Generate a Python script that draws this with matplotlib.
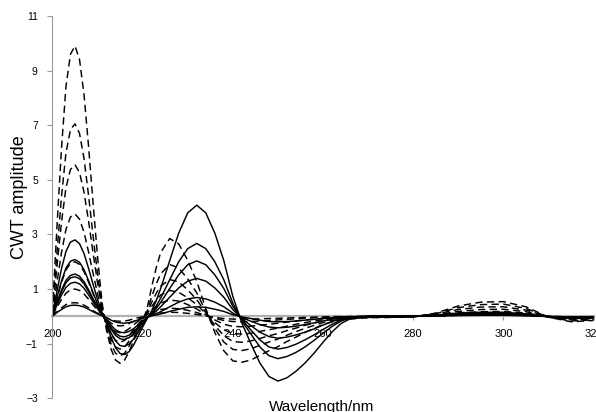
import matplotlib
matplotlib.use('Agg')
import matplotlib.pyplot as plt

# wavelength grid (nm) - finer where the curves swing fast
wavelength = [200, 201, 202, 203, 204, 205, 206, 207, 208, 209, 210, 211,
              212, 213, 214, 215, 216, 217, 218, 219, 220, 221, 222, 223, 224,
              226, 228, 230, 232, 234, 236, 238, 240, 242, 244, 246, 248, 250,
              252, 254, 256, 258, 260, 262, 264, 266,
              270, 275, 280, 285, 290, 295, 300, 305, 310, 315, 320]

# dashed family
dash_1 = [0.2, 3.27, 6.14, 8.42, 9.6, 9.9, 9.41, 8.12, 6.24, 4.16, 2.18, 0.5,
          -0.52, -1.2, -1.6, -1.72, -1.6, -1.29, -0.89, -0.52, -0.17,
          0.29, 1.08, 1.77, 2.34, 2.85, 2.65, 2.05, 1.28, 0.29,
          -0.59, -1.26, -1.63, -1.68, -1.6, -1.43, -1.26, -1.11, -0.92, -0.76, -0.59, -0.44, -0.3, -0.2, -0.13, -0.1,
          -0.05, -0.04, -0.02, 0.12, 0.38, 0.52, 0.54, 0.35, -0.03, -0.2, -0.15]
dash_2 = [0.14, 2.33, 4.37, 5.99, 6.84, 7.05, 6.7, 5.78, 4.44, 2.96, 1.55, 0.35,
          -0.44, -1.02, -1.35, -1.45, -1.35, -1.09, -0.75, -0.44, -0.15,
          0.19, 0.72, 1.18, 1.56, 1.9, 1.77, 1.37, 0.86, 0.19,
          -0.44, -0.94, -1.21, -1.25, -1.19, -1.06, -0.94, -0.83, -0.69, -0.56, -0.44, -0.33, -0.23, -0.15, -0.1, -0.08,
          -0.04, -0.03, -0.02, 0.1, 0.32, 0.43, 0.45, 0.29, -0.03, -0.17, -0.13]
dash_3 = [0.11, 1.83, 3.44, 4.72, 5.38, 5.55, 5.27, 4.55, 3.5, 2.33, 1.22, 0.28,
          -0.36, -0.84, -1.12, -1.2, -1.12, -0.9, -0.62, -0.36, -0.12,
          0.14, 0.51, 0.84, 1.11, 1.35, 1.26, 0.97, 0.61, 0.14,
          -0.33, -0.71, -0.92, -0.95, -0.9, -0.81, -0.71, -0.63, -0.52, -0.43, -0.33, -0.25, -0.17, -0.11, -0.08, -0.06,
          -0.03, -0.02, -0.01, 0.08, 0.25, 0.34, 0.35, 0.23, -0.02, -0.13, -0.1]
dash_4 = [0.08, 1.24, 2.33, 3.19, 3.64, 3.75, 3.56, 3.08, 2.36, 1.58, 0.83, 0.19,
          -0.29, -0.67, -0.88, -0.95, -0.88, -0.71, -0.49, -0.29, -0.1,
          0.1, 0.36, 0.59, 0.78, 0.95, 0.88, 0.68, 0.43, 0.1,
          -0.23, -0.49, -0.63, -0.65, -0.62, -0.55, -0.49, -0.43, -0.36, -0.29, -0.23, -0.17, -0.12, -0.08, -0.05, -0.04,
          -0.02, -0.02, -0.01, 0.06, 0.18, 0.25, 0.26, 0.17, -0.02, -0.1, -0.07]
dash_5 = [0.04, 0.66, 1.24, 1.7, 1.94, 2.0, 1.9, 1.64, 1.26, 0.84, 0.44, 0.1,
          -0.18, -0.42, -0.56, -0.6, -0.56, -0.45, -0.31, -0.18, -0.06,
          0.06, 0.23, 0.37, 0.49, 0.6, 0.56, 0.43, 0.27, 0.06,
          -0.13, -0.29, -0.37, -0.38, -0.36, -0.32, -0.29, -0.25, -0.21, -0.17, -0.13, -0.1, -0.07, -0.05, -0.03, -0.02,
          -0.02, -0.01, -0.01, 0.04, 0.13, 0.17, 0.18, 0.12, -0.01, -0.07, -0.05]
dash_6 = [0.02, 0.33, 0.62, 0.85, 0.97, 1.0, 0.95, 0.82, 0.63, 0.42, 0.22, 0.05,
          -0.11, -0.25, -0.33, -0.35, -0.33, -0.26, -0.18, -0.11, -0.04,
          0.03, 0.11, 0.19, 0.25, 0.3, 0.28, 0.22, 0.14, 0.03,
          -0.07, -0.15, -0.19, -0.2, -0.19, -0.17, -0.15, -0.13, -0.11, -0.09, -0.07, -0.05, -0.04, -0.02, -0.02, -0.01,
          -0.01, -0.01, 0.0, 0.02, 0.07, 0.1, 0.1, 0.07, -0.01, -0.04, -0.03]
dash_7 = [0.01, 0.17, 0.31, 0.43, 0.49, 0.5, 0.48, 0.41, 0.32, 0.21, 0.11, 0.03,
          -0.05, -0.13, -0.17, -0.18, -0.17, -0.14, -0.09, -0.05, -0.02,
          0.02, 0.06, 0.09, 0.12, 0.15, 0.14, 0.11, 0.07, 0.02,
          -0.04, -0.08, -0.1, -0.1, -0.1, -0.09, -0.08, -0.07, -0.06, -0.05, -0.04, -0.03, -0.02, -0.01, -0.01, -0.01,
          0.0, 0.0, 0.0, 0.01, 0.04, 0.05, 0.05, 0.03, 0.0, -0.02, -0.01]

# solid family
solid_1 = [0.06, 0.92, 1.74, 2.38, 2.72, 2.8, 2.66, 2.3, 1.76, 1.18, 0.62, 0.14,
           -0.28, -0.77, -1.15, -1.36, -1.4, -1.29, -1.05, -0.73, -0.39, -0.08,
           0.2, 0.57, 1.02, 2.04, 3.05, 3.79, 4.07, 3.79, 3.05, 2.04, 0.73,
           -0.24, -1.0, -1.71, -2.2, -2.37, -2.25, -2.01, -1.71, -1.35, -0.95, -0.57, -0.26, -0.09,
           0.0, 0.0, 0.0, 0.05, 0.12, 0.15, 0.15, 0.09, -0.02, -0.08, -0.06]
solid_2 = [0.04, 0.69, 1.29, 1.77, 2.02, 2.08, 1.98, 1.71, 1.31, 0.87, 0.46, 0.1,
           -0.22, -0.61, -0.9, -1.07, -1.1, -1.01, -0.83, -0.57, -0.31, -0.07,
           0.13, 0.37, 0.67, 1.34, 2.0, 2.48, 2.67, 2.48, 2.0, 1.34, 0.48,
           -0.16, -0.65, -1.12, -1.44, -1.55, -1.47, -1.32, -1.12, -0.88, -0.62, -0.37, -0.17, -0.06,
           0.0, 0.0, 0.0, 0.04, 0.1, 0.12, 0.12, 0.07, -0.01, -0.06, -0.05]
solid_3 = [0.03, 0.51, 0.96, 1.32, 1.5, 1.55, 1.47, 1.27, 0.98, 0.65, 0.34, 0.08,
           -0.17, -0.47, -0.7, -0.82, -0.85, -0.78, -0.64, -0.44, -0.24, -0.05,
           0.1, 0.28, 0.51, 1.02, 1.52, 1.89, 2.03, 1.89, 1.52, 1.02, 0.37,
           -0.12, -0.5, -0.86, -1.12, -1.2, -1.14, -1.02, -0.86, -0.68, -0.48, -0.29, -0.13, -0.05,
           0.0, 0.0, 0.0, 0.03, 0.08, 0.1, 0.1, 0.06, -0.01, -0.05, -0.04]
solid_4 = [0.03, 0.48, 0.9, 1.23, 1.41, 1.45, 1.38, 1.19, 0.91, 0.61, 0.32, 0.07,
           -0.15, -0.41, -0.62, -0.73, -0.75, -0.69, -0.56, -0.39, -0.21, -0.05,
           0.07, 0.19, 0.35, 0.7, 1.04, 1.29, 1.39, 1.29, 1.04, 0.7, 0.25,
           -0.08, -0.34, -0.58, -0.74, -0.8, -0.76, -0.68, -0.58, -0.46, -0.32, -0.19, -0.09, -0.03,
           0.0, 0.0, 0.0, 0.02, 0.06, 0.08, 0.08, 0.05, -0.01, -0.04, -0.03]
solid_5 = [0.03, 0.41, 0.78, 1.06, 1.21, 1.25, 1.19, 1.03, 0.79, 0.53, 0.28, 0.06,
           -0.12, -0.33, -0.49, -0.58, -0.6, -0.55, -0.45, -0.31, -0.17, -0.04,
           0.03, 0.1, 0.17, 0.35, 0.52, 0.64, 0.69, 0.64, 0.52, 0.35, 0.12,
           -0.04, -0.18, -0.3, -0.39, -0.42, -0.4, -0.36, -0.3, -0.24, -0.17, -0.1, -0.05, -0.02,
           0.0, 0.0, 0.0, 0.02, 0.05, 0.06, 0.06, 0.04, -0.01, -0.03, -0.02]
solid_6 = [0.01, 0.14, 0.25, 0.35, 0.4, 0.41, 0.39, 0.34, 0.26, 0.17, 0.09, 0.02,
           -0.05, -0.14, -0.21, -0.24, -0.25, -0.23, -0.19, -0.13, -0.07, -0.02,
           0.02, 0.05, 0.09, 0.18, 0.26, 0.33, 0.35, 0.33, 0.26, 0.18, 0.06,
           -0.02, -0.08, -0.14, -0.19, -0.2, -0.19, -0.17, -0.14, -0.11, -0.08, -0.05, -0.02, -0.01,
           0.0, 0.0, 0.0, 0.01, 0.03, 0.04, 0.04, 0.02, 0.0, -0.02, -0.02]

dashed = [dash_1, dash_2, dash_3, dash_4, dash_5, dash_6, dash_7]
solids = [solid_1, solid_2, solid_3, solid_4, solid_5, solid_6]

x_ticks = [200, 220, 240, 260, 280, 300, 320]
y_ticks = [-3, -1, 1, 3, 5, 7, 9, 11]

plt.rcParams['font.family'] = ['Liberation Sans', 'DejaVu Sans']

fig = plt.figure(figsize=(5.96, 4.12), dpi=100)
ax = fig.add_axes([0.088, 0.0333, 0.908, 0.928])

grey = '#9a9a9a'
for s in solids:
    ax.plot(wavelength, s, color='black', lw=1.05, solid_capstyle='round')
for d in dashed:
    ax.plot(wavelength, d, color='black', lw=1.05, dashes=(5, 3))

ax.set_xlim(200, 320)
ax.set_ylim(-3, 11)
ax.set_xticks(x_ticks)
ax.set_yticks(y_ticks)

# axis through zero like the Excel original
ax.spines['bottom'].set_position(('data', 0))
ax.spines['bottom'].set_color('#b0b0b0')
ax.spines['bottom'].set_linewidth(1.6)
ax.spines['bottom'].set_zorder(0.5)
ax.spines['left'].set_color(grey)
ax.spines['left'].set_linewidth(0.8)
ax.spines['top'].set_visible(False)
ax.spines['right'].set_visible(False)

ax.tick_params(axis='y', length=3.5, width=0.8, color=grey, pad=7, labelsize=7.5)
ax.tick_params(axis='x', length=3, width=0.8, color=grey, pad=6, labelsize=8)
for lbl in ax.get_xticklabels() + ax.get_yticklabels():
    lbl.set_clip_on(False)

fig.text(20 / 596, 1 - 197 / 412, 'CWT amplitude', rotation=90,
         ha='center', va='center', fontsize=13)
fig.text(322 / 596, 1 - 410.5 / 412, 'Wavelength/nm',
         ha='center', va='baseline', fontsize=11)

fig.savefig('out.png', dpi=100)
